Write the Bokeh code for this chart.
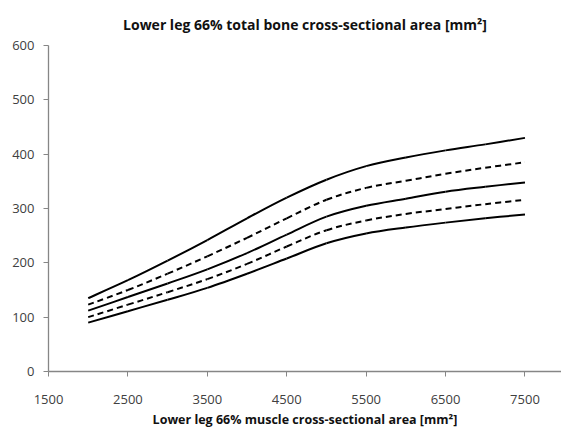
from bokeh.plotting import figure
from bokeh.models import FixedTicker, Range1d, Title
from bokeh.embed import file_html
from bokeh.resources import INLINE

# Data
muscle_csa = [2000, 2500, 3000, 3500, 4000, 4500, 5000, 5500, 6000, 6500, 7000, 7500]
upper_solid = [135, 168, 204, 242, 282, 320, 353, 378, 394, 407, 418, 430]
upper_dashed = [123, 150, 180, 212, 246, 282, 316, 338, 351, 364, 375, 385]
middle_solid = [112, 137, 162, 188, 218, 252, 285, 305, 318, 331, 340, 348]
lower_dashed = [100, 123, 146, 170, 198, 230, 260, 278, 290, 299, 308, 316]
lower_solid = [90, 111, 132, 154, 180, 208, 236, 254, 265, 274, 282, 289]

x_ticks = [1500, 2500, 3500, 4500, 5500, 6500, 7500]
y_ticks = [0, 100, 200, 300, 400, 500, 600]

FONT = "Open Sans"

p = figure(width=561, height=434, output_backend="svg", toolbar_location=None,
           x_range=Range1d(1500, 7960), y_range=Range1d(0, 600),
           min_border_left=48, min_border_right=0, min_border_top=0, min_border_bottom=63)

p.title.text = "Lower leg 66% total bone cross-sectional area [mm\u00b2]"
p.title.align = "center"
p.title.offset = -22
p.title.standoff = 24
p.title.text_font = FONT
p.title.text_font_size = "14px"
p.title.text_font_style = "bold"
p.title.text_color = "#111111"

p.add_layout(Title(text="Lower leg 66% muscle cross-sectional area [mm\u00b2]", align="center",
                   offset=-22, text_font=FONT, text_font_size="12.5px", text_font_style="bold",
                   text_color="#111111", standoff=4), "below")

p.outline_line_color = None
p.xgrid.grid_line_color = None
p.ygrid.grid_line_color = None

for ax in (p.xaxis, p.yaxis):
    ax.axis_line_color = "#868686"
    ax.axis_line_width = 1.3
    ax.major_tick_line_color = "#868686"
    ax.major_tick_out = 5
    ax.major_tick_in = 0
    ax.minor_tick_line_color = None
    ax.major_label_text_font = FONT
    ax.major_label_text_font_size = "13px"
    ax.major_label_text_color = "#404040"

p.xaxis.ticker = FixedTicker(ticks=x_ticks)
p.yaxis.ticker = FixedTicker(ticks=y_ticks)
p.xaxis.major_label_standoff = 18
p.yaxis.major_label_standoff = 9


def smooth(xs, ys, **kw):
    # Catmull-Rom style smoothing (like a spreadsheet's smoothed line), drawn as Bezier segments
    n = len(xs)
    x0, y0, x1, y1, cx0, cy0, cx1, cy1 = ([] for _ in range(8))
    for i in range(n - 1):
        xp, yp = (xs[i - 1], ys[i - 1]) if i > 0 else (xs[i], ys[i])
        xn, yn = (xs[i + 2], ys[i + 2]) if i + 2 < n else (xs[i + 1], ys[i + 1])
        x0.append(xs[i]); y0.append(ys[i]); x1.append(xs[i + 1]); y1.append(ys[i + 1])
        cx0.append(xs[i] + (xs[i + 1] - xp) / 6); cy0.append(ys[i] + (ys[i + 1] - yp) / 6)
        cx1.append(xs[i + 1] - (xn - xs[i]) / 6); cy1.append(ys[i + 1] - (yn - ys[i]) / 6)
    p.bezier(x0=x0, y0=y0, x1=x1, y1=y1, cx0=cx0, cy0=cy0, cx1=cx1, cy1=cy1, **kw)


smooth(muscle_csa, upper_solid, line_color="black", line_width=2)
smooth(muscle_csa, upper_dashed, line_color="black", line_width=2, line_dash="6 4")
smooth(muscle_csa, middle_solid, line_color="black", line_width=2)
smooth(muscle_csa, lower_dashed, line_color="black", line_width=2, line_dash="6 4")
smooth(muscle_csa, lower_solid, line_color="black", line_width=2)

open("out.html", "w").write(file_html(p, INLINE))
